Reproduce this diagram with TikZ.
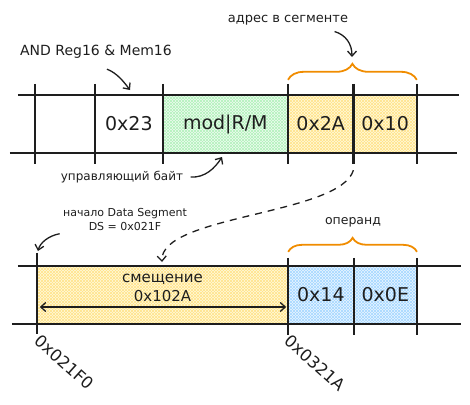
\documentclass[tikz,border=0pt]{standalone}
\usepackage{fontspec}
\setmainfont{DejaVu Sans}
\usetikzlibrary{positioning, arrows.meta, patterns, decorations.pathreplacing}

\definecolor{inkblack}{HTML}{1E1E1E}
\definecolor{bracecol}{HTML}{F08C00}
\definecolor{greenbg}{HTML}{EFFBF1}
\definecolor{greenln}{HTML}{B2F2BB}
\definecolor{yellowbg}{HTML}{FFF9DB}
\definecolor{yellowln}{HTML}{FFE48A}
\definecolor{bluebg}{HTML}{EAF6FF}
\definecolor{blueln}{HTML}{A5D8FF}

\tikzset{
  cell/.style={minimum height=58pt, inner sep=0pt, text=inkblack,
    font=\fontsize{19}{21}\selectfont},
  hatch/.style 2 args={fill=#1,
    postaction={pattern=north east lines, pattern color=#2},
    postaction={pattern=north west lines, pattern color=#2}},
  tape/.style={line width=2.2pt, inkblack},
  note/.style={inkblack, font=\fontsize{12}{14}\selectfont},
  pointer/.style={->, line width=1.3pt, inkblack},
  brace/.style={decorate, decoration={brace, amplitude=#1},
    line width=1.8pt, bracecol},
  addrlabel/.style={inkblack, font=\fontsize{16.5}{18}\selectfont,
    rotate=-42, anchor=north west, inner sep=1pt},
}

\begin{document}
\begin{tikzpicture}[x=1pt, y=-1pt, >={Straight Barb[length=5pt, width=9pt]}]
  \useasboundingbox (0,0) rectangle (470,404);

  % upper tape: the bytes of the instruction
  \node[cell, minimum width=60pt] (c0) at (65,124) {};
  \node[cell, minimum width=67pt, right=0pt of c0] (c1) {0x23};
  \node[cell, minimum width=125pt, right=0pt of c1, hatch={greenbg}{greenln}] (c2) {mod|R/M};
  \node[cell, minimum width=65pt, right=0pt of c2, hatch={yellowbg}{yellowln}] (c3) {0x2A};
  \node[cell, minimum width=63pt, right=0pt of c3, hatch={yellowbg}{yellowln}] (c4) {0x10};

  \draw[tape] ([xshift=-17pt]c0.north west) -- ([xshift=42pt]c4.north east);
  \draw[tape] ([xshift=-25pt]c0.south west) -- ([xshift=40pt]c4.south east);
  \foreach \c in {c0,c1,c2,c3,c4}
    \draw[tape] ([yshift=11pt]\c.north west) -- ([yshift=-11pt]\c.south west);
  \draw[tape] ([yshift=11pt]c4.north east) -- ([yshift=-11pt]c4.south east);

  % lower tape: the data segment
  \node[cell, minimum width=251pt, hatch={yellowbg}{yellowln}] (d0) at (162.5,295) {};
  \node[cell, minimum width=65pt, right=0pt of d0, hatch={bluebg}{blueln}] (d1) {0x14};
  \node[cell, minimum width=63pt, right=0pt of d1, hatch={bluebg}{blueln}] (d2) {0x0E};

  \draw[tape] ([xshift=-19pt]d0.north west) -- ([xshift=44pt]d2.north east);
  \draw[tape] ([xshift=-25pt]d0.south west) -- ([xshift=44pt]d2.south east);
  \draw[tape] ([yshift=13pt]d0.north west) -- ([yshift=-10pt]d0.south west);
  \foreach \c in {d1,d2}
    \draw[tape] ([yshift=8pt]\c.north west) -- ([yshift=-11pt]\c.south west);
  \draw[tape] ([yshift=8pt]d2.north east) -- ([yshift=-11pt]d2.south east);

  \node[note, align=center, font=\fontsize{15}{19}\selectfont] (offset) at ([yshift=7pt]d0.center) {смещение\\0x102A};
  \draw[<->, line width=1.3pt, inkblack] ([xshift=3pt, yshift=-12pt]d0.west) -- ([xshift=-2pt, yshift=-12pt]d0.east);

  % braces
  \draw[brace=16pt] ([yshift=15pt]c3.north west) -- ([yshift=15pt]c4.north east);
  \draw[brace=14pt] ([yshift=14pt]d1.north west) -- ([yshift=14pt]d2.north east);

  % labels
  \node[note, font=\fontsize{14}{16}\selectfont] (instr) at (96,52) {AND Reg16 \& Mem16};
  \node[note, font=\fontsize{13}{15}\selectfont] (addr) at (288,20) {адрес в сегменте};
  \node[note] (ctrl) at (122,177) {управляющий байт};
  \node[note, font=\fontsize{12.5}{14}\selectfont] (oper) at (353,222) {операнд};
  \node[note, align=center, font=\fontsize{11}{14}\selectfont] (dsnote) at (125,219) {начало Data Segment\\DS = 0x021F};
  \node[addrlabel] (segbase) at (42,332) {0x021F0};
  \node[addrlabel] (physaddr) at (292,332) {0x0321A};

  % pointers
  \coordinate (regtip) at (130,90);
  \coordinate (addrtip) at (352,57);
  \coordinate (ctrltip) at (222,157);
  \coordinate (dstip) at (38,251);
  \coordinate (offtip) at (162,262);

  \draw[pointer] ([xshift=11pt, yshift=-7pt]instr.south) .. controls (117,73) and (124,82) .. (regtip);
  \draw[pointer] ([xshift=-17pt, yshift=-3pt]addr.south east) .. controls (346,35) and (352,44) .. (addrtip);
  \draw[pointer] ([xshift=4pt]ctrl.east) .. controls (205,178) and (215,168) .. (ctrltip);
  \draw[pointer] (dsnote.south west) .. controls (48,236) and (40,243) .. (dstip);
  \draw[pointer, dash pattern=on 7pt off 6pt] ([yshift=-17pt]c4.south west) .. controls (340,215) and (160,215) .. (offtip);
\end{tikzpicture}
\end{document}
